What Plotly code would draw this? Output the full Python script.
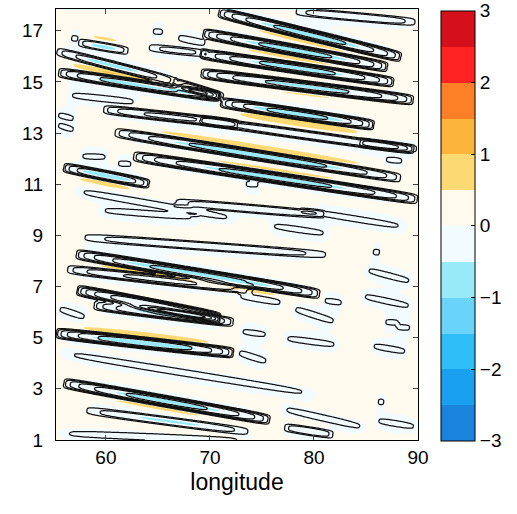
import numpy as np
import plotly.graph_objects as go

# ---- streak features (data coordinates) ----
# each streak: start (lon0, y0), end (lon1, y1), contour strength, fill dipole strength, side of warm lobe
streak_lon0 = [78.1, 70.8, 69.3, 66.8, 69.1, 69.1, 71.0, 69.1, 84.4, 64.0,
               57.3, 55.2, 55.4, 56.2, 66.5, 59.7, 55.2, 55.2, 60.8, 62.6,
               55.9, 56.8, 66.5, 59.1, 78.6, 75.6, 57.6, 57.1, 56.2, 57.2,
               58.8, 55.2, 55.2, 55.9, 57.9, 55.2, 76.7, 77.1, 85.8, 72.6,
               77.9, 84.4, 76.9, 85.4, 72.6, 84.8, 55.3, 56.6, 64.4, 86.7,
               73.3, 85.6, 80.8, 72.8, 86.7, 87.8, 86.1, 61.0, 57.4]
streak_y0 = [17.76, 17.72, 16.90, 16.74, 16.10, 15.34, 14.20, 13.50, 12.64, 16.35,
             16.55, 16.20, 15.37, 14.50, 15.00, 13.93, 13.73, 13.34, 13.03, 12.10,
             11.66, 10.77, 10.30, 10.00, 10.00, 9.40, 8.93, 8.27, 7.68, 6.86,
             6.27, 5.18, 4.44, 3.23, 2.17, 1.27, 2.25, 1.50, 1.78, 6.66,
             6.16, 6.66, 5.00, 4.70, 4.44, 7.68, 6.16, 16.72, 16.98, 11.98,
             11.02, 8.36, 6.47, 5.26, 5.62, 5.42, 2.50, 11.82, 12.10]
streak_lon1 = [89.9, 88.4, 87.1, 69.7, 87.7, 89.6, 85.8, 89.6, 90.0, 69.8,
               62.2, 66.8, 70.9, 63.2, 71.3, 72.7, 57.1, 57.1, 88.4, 90.0,
               64.2, 72.7, 81.0, 69.0, 89.2, 81.5, 81.5, 80.6, 74.2, 71.0,
               72.3, 72.3, 80.6, 75.8, 73.9, 73.9, 85.1, 81.9, 90.0, 77.1,
               82.2, 89.6, 82.5, 89.1, 75.6, 89.6, 58.2, 57.4, 65.6, 88.7,
               74.8, 86.4, 82.9, 75.7, 88.3, 89.4, 86.8, 62.6, 60.3]
streak_y1 = [17.33, 15.96, 15.57, 16.50, 14.98, 14.28, 13.30, 12.33, 12.37, 16.10,
             16.20, 15.00, 14.40, 14.20, 14.40, 13.34, 13.54, 13.10, 11.23, 10.40,
             11.00, 9.63, 9.80, 9.70, 9.30, 9.05, 8.23, 6.70, 6.86, 5.77,
             5.60, 4.40, 2.76, 1.78, 1.31, 0.96, 1.47, 1.20, 1.50, 6.35,
             5.60, 6.20, 4.70, 4.44, 4.05, 7.17, 5.77, 16.68, 16.95, 11.90,
             10.98, 8.33, 6.35, 5.10, 5.58, 5.38, 2.48, 11.78, 12.06]
streak_amp = [2.6, 5.3, 5.3, 1.6, 5.3, 5.3, 5.3, 3.3, 2.2, 2.1,
              2.6, 3.2, 4.6, 1.5, 3.1, 3.6, 1.3, 1.3, 4.6, 5.3,
              4.2, 1.6, 2.6, 1.5, 1.4, 1.4, 2.6, 5.3, 3.6, 5.6,
              4.2, 5.6, 1.6, 5.3, 2.6, 1.6, 1.5, 2.6, 1.4, 1.5,
              1.5, 1.4, 1.4, 1.4, 1.5, 1.4, 1.4, 1.3, 1.3, 1.3,
              1.3, 1.3, 1.3, 1.3, 1.3, 1.3, 1.3, 1.3, 1.3]
streak_fill = [0.2, 0.6, 0.6, 0.0, 0.5, 0.45, 0.7, 0.3, 0.0, 0.2,
               0.5, 0.5, 0.55, 0.0, 0.2, 0.3, 0.0, 0.0, 0.7, 0.55,
               0.6, 0.1, 0.3, 0.0, 0.0, 0.0, 0.2, 0.7, 0.3, 0.3,
               0.3, 0.7, 0.1, 0.55, 0.4, 0.1, 0.1, 0.3, 0.0, 0.1,
               0.0, 0.0, 0.0, 0.0, 0.0, 0.0, 0.0, 0.0, 0.0, 0.0,
               0.0, 0.0, 0.0, 0.0, 0.0, 0.0, 0.0, 0.0, 0.0]
streak_side = [1, -1, -1, 1, -1, -1, -1, 1, 1, 1,
               1, -1, 1, 1, 1, 1, 1, 1, 1, 1,
               -1, 1, 1, 1, 1, 1, 1, -1, 1, 1,
               1, 1, 1, -1, -1, 1, 1, 1, 1, 1,
               1, 1, 1, 1, 1, 1, 1, 1, 1, 1,
               1, 1, 1, 1, 1, 1, 1, 1, 1]

x_ticks = [60, 70, 80, 90]
y_ticks = [1, 3, 5, 7, 9, 11, 13, 15, 17]
cbar_tick_labels = ['\u22123', '\u22122', '\u22121', '0', '1', '2', '3']
cbar_tick_vals = [-2.9999, -2, -1, 0, 1, 2, 2.9999]
band_colors = ['#1a84dc', '#1aa0f0', '#30bef8', '#6ad3fa', '#98eaf9', '#f2fbff',
               '#fffaee', '#fdd974', '#fcb43a', '#fd8026', '#fe2222', '#d5101b']

# ---- grid ----
lon = np.round(np.arange(55.2, 90.0001, 0.1), 2)
yv = np.round(np.arange(1.0, 17.8501, 0.04), 3)
LON, YY = np.meshgrid(lon, yv)
SX, SY = 10.37, 25.6  # px per unit, for isotropic shapes
X = LON * SX
Y = YY * SY

C = np.zeros_like(X)
F = np.full_like(X, 0.1)
for lo0, y0, lo1, y1, amp, fl, sd in zip(streak_lon0, streak_y0, streak_lon1, streak_y1,
                                         streak_amp, streak_fill, streak_side):
    p0x, p0y = lo0 * SX, y0 * SY
    vx, vy = lo1 * SX - p0x, y1 * SY - p0y
    L = np.hypot(vx, vy)
    ux, uy = vx / L, vy / L
    nx, ny = -uy, ux
    t = ((X - p0x) * ux + (Y - p0y) * uy) / L
    d = (X - p0x) * nx + (Y - p0y) * ny
    base = np.clip(1 - (2 * t - 1) ** 2, 0, None)
    taper = base ** 0.35
    w = 3.5 + 0.3 * amp
    C += amp * np.exp(-(d / w) ** 4) * taper
    F += fl * (-1.1 * base ** 1.6 * np.exp(-(d / 2.4) ** 2)
               + 1.25 * base ** 0.8 * np.exp(-((d - sd * 8.0) / 3.5) ** 2))
    F += taper * (-0.25 * np.exp(-(d / 10.0) ** 2))

C = np.round(C, 2)
F = np.round(F, 3)

cs = []
for i, c in enumerate(band_colors):
    cs.append([i / 12, c])
    cs.append([(i + 1) / 12, c])

font = "Liberation Sans, Arial, Helvetica, sans-serif"

fig = go.Figure()
fig.add_trace(go.Contour(
    x=lon, y=yv, z=F, zmin=-3, zmax=3, zauto=False,
    contours=dict(start=-3, end=3, size=0.5, coloring='fill'),
    line=dict(width=0), colorscale=cs, hoverinfo='skip',
    colorbar=dict(x=1.0635, xanchor='left', y=0.497, yanchor='middle', len=0.998,
                  lenmode='fraction', thickness=34, outlinewidth=1, outlinecolor='black',
                  tickmode='array', tickvals=cbar_tick_vals, ticktext=cbar_tick_labels,
                  ticks='inside', ticklen=4, tickcolor='black',
                  tickfont=dict(family=font, size=19, color='black'), xpad=0, ypad=0)
))
fig.add_trace(go.Contour(
    x=lon, y=yv, z=C, showscale=False,
    contours=dict(start=1, end=8, size=0.8, coloring='lines'),
    colorscale=[[0, '#111111'], [1, '#111111']],
    line=dict(width=1.25), hoverinfo='skip'
))

fig.update_layout(
    width=517, height=514,
    margin=dict(l=56, r=99, t=9, b=74),
    paper_bgcolor='white', plot_bgcolor='white',
    font=dict(family=font, color='black'),
    showlegend=False,
)
fig.update_xaxes(range=[55.2, 90.0], tickvals=x_ticks, ticks='inside', ticklen=5,
                 mirror='ticks', showline=True, linecolor='black', linewidth=1,
                 showgrid=False, zeroline=False, tickfont=dict(size=19),
                 title=dict(text='longitude', font=dict(size=23), standoff=7))
fig.update_yaxes(range=[1.0, 17.85], tickvals=y_ticks, ticks='inside', ticklen=5,
                 mirror='ticks', showline=True, linecolor='black', linewidth=1,
                 showgrid=False, zeroline=False, tickfont=dict(size=19),
                 ticklabelstandoff=8)

fig.write_html("out.html")
